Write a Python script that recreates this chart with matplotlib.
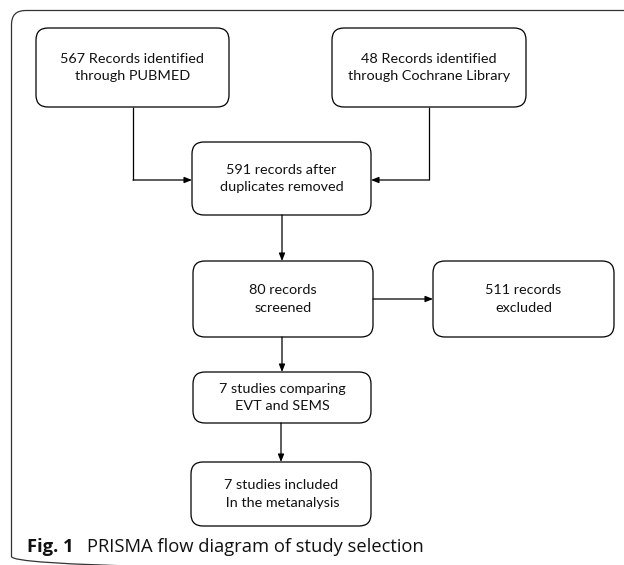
import matplotlib
matplotlib.use("Agg")
import matplotlib.pyplot as plt
from matplotlib.patches import FancyBboxPatch

# Flow chart content
box_labels = [
    "567 Records identified\nthrough PUBMED",
    "48 Records identified\nthrough Cochrane Library",
    "591 records after\nduplicates removed",
    "80 records\nscreened",
    "511 records\nexcluded",
    "7 studies comparing\nEVT and SEMS",
    "7 studies included\n In the metanalysis",
]
caption_bold = "Fig. 1"
caption_text = "PRISMA flow diagram of study selection"

# Layout (pixel coordinates: x0, y0, x1, y1)
boxes = [
    (36, 28, 229, 107),
    (332, 28, 526, 107),
    (192, 142, 371, 215),
    (193, 261, 373, 337),
    (433, 261, 614, 337),
    (193, 372, 371, 423),
    (191, 462, 371, 526),
]

W, H = 624, 565
fig = plt.figure(figsize=(W / 100, H / 100), dpi=100)
ax = fig.add_axes([0, 0, 1, 1])
ax.set_xlim(0, W)
ax.set_ylim(H, 0)
ax.axis("off")

FONT = "Lato"
lw = 0.9

# outer frame (bottom and right edges lie just outside the image)
frame = FancyBboxPatch((11.5, 10.5), 630, 560, boxstyle="round,pad=0,rounding_size=14",
                       fc="none", ec="#333333", lw=0.9, clip_on=True)
ax.add_patch(frame)

for (x0, y0, x1, y1), lab in zip(boxes, box_labels):
    p = FancyBboxPatch((x0, y0), x1 - x0, y1 - y0,
                       boxstyle="round,pad=0,rounding_size=12",
                       fc="white", ec="black", lw=lw)
    ax.add_patch(p)
    ax.text((x0 + x1) / 2, (y0 + y1) / 2, lab, ha="center", va="center",
            fontsize=10.4, family=FONT, linespacing=1.56, color="#111111")

def arrow(points):
    xs = [p[0] for p in points]
    ys = [p[1] for p in points]
    ax.plot(xs[:-1], ys[:-1], color="black", lw=lw, solid_capstyle="butt")
    ax.annotate("", xy=points[-1], xytext=points[-2],
                arrowprops=dict(arrowstyle="-|>,head_length=0.45,head_width=0.18",
                                color="black", lw=lw, shrinkA=0, shrinkB=0))

b = boxes
arrow([(133, b[0][3]), (133, 180), (b[2][0], 180)])
arrow([(429, b[1][3]), (429, 180), (b[2][2], 180)])
arrow([(282, b[2][3]), (282, b[3][1])])
arrow([(b[3][2], 299), (b[4][0], 299)])
arrow([(282, b[3][3]), (282, b[5][1])])
arrow([(281, b[5][3]), (281, b[6][1])])

# caption
t = ax.text(27, 547, caption_bold, ha="left", va="center", fontsize=13.2,
            family="Open Sans", weight="bold", color="#111111")
fig.canvas.draw()
bb = t.get_window_extent()
x_end = ax.transData.inverted().transform((bb.x1, bb.y0))[0]
ax.text(x_end + 13, 547, caption_text, ha="left", va="center", fontsize=13.2,
        family="Open Sans", color="#111111")

fig.savefig("out.png", dpi=100)
